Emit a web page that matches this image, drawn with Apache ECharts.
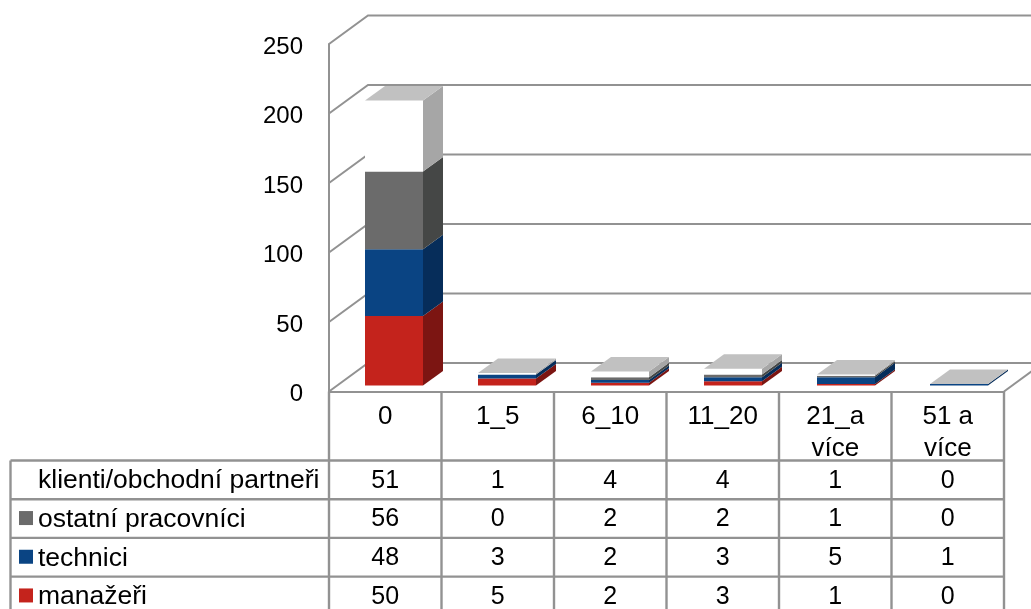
<!DOCTYPE html>
<html><head><meta charset="utf-8">
<style>html,body{margin:0;padding:0;background:#fff}#c{width:1031px;height:609px}</style>
<script src="https://cdn.jsdelivr.net/npm/echarts@6/dist/echarts.min.js"></script>
</head><body><div id="c"></div>
<script>
const categories = ['0', '1_5', '6_10', '11_20', '21_a\nvíce', '51 a\nvíce'];
const yTicks = [0, 50, 100, 150, 200, 250];
const manazeri = [50, 5, 2, 3, 1, 0];
const technici = [48, 3, 2, 3, 5, 1];
const ostatni = [56, 0, 2, 2, 1, 0];
const klienti = [51, 1, 4, 4, 1, 0];
const seriesNames = ['manažeři', 'technici', 'ostatní pracovníci', 'klienti/obchodní partneři'];
const seriesValues = [manazeri, technici, ostatni, klienti];
const frontColors = ['#c4231c', '#0a4483', '#6b6b6b', '#ffffff'];
const sideColors = ['#7c1512', '#062d5a', '#454746', '#a6a6a6'];
const topColor = '#c1c1c1';
const lineColor = '#929292';
const font = '"Liberation Sans", Arial, sans-serif';
const axisFs = 24, catFs = 26, rowFs = 26.5, valFs = 25;

const chart = echarts.init(document.getElementById('c'), null, {renderer: 'canvas'});
const W = {dx: 39, dy: -28.5};   // wall depth
const B = {dx: 20, dy: -14.5, ox: 36, oy: -6, w: 58, drift: 0.5}; // bar geometry
const tableTop = 460.5, rowH = 38.7, tableLeft = 10.5;

const lineStyle = {stroke: lineColor, lineWidth: 2, fill: null};
const tableLine = {stroke: lineColor, lineWidth: 2.4, fill: null};

function renderWall(params, api) {
  const v = api.value(0);
  const p = api.coord([0, v]);
  const band = api.size([1, 0])[0];
  const left = p[0] - band / 2;
  const right = left + band * categories.length;
  const kids = [{
    type: 'polyline', silent: true,
    shape: {points: [[left, p[1]], [left + W.dx, p[1] + W.dy], [right + W.dx + 10, p[1] + W.dy]]},
    style: lineStyle
  }];
  if (v === 0) kids.push({
    type: 'line', silent: true,
    shape: {x1: right, y1: p[1], x2: right + W.dx, y2: p[1] + W.dy},
    style: lineStyle
  });
  return {type: 'group', children: kids};
}

function renderSegment(si, isLast) {
  return function (params, api) {
    const i = api.value(0);
    const a = api.coord([i, api.value(1)]);
    const b = api.coord([i, api.value(2)]);
    const band = api.size([1, 0])[0];
    const x0 = a[0] - band / 2 + B.ox + B.drift * i, x1 = x0 + B.w;
    const y0 = a[1] + B.oy, y1 = b[1] + B.oy;
    const kids = [];
    if (y0 - y1 > 0) {
      kids.push({type: 'polygon', silent: true,
        shape: {points: [[x1, y0], [x1 + B.dx, y0 + B.dy], [x1 + B.dx, y1 + B.dy], [x1, y1]]},
        style: {fill: sideColors[si]}});
      kids.push({type: 'rect', silent: true,
        shape: {x: x0, y: y1, width: B.w, height: y0 - y1},
        style: {fill: frontColors[si]}});
    }
    if (isLast) {
      kids.push({type: 'polygon', silent: true,
        shape: {points: [[x0, y1], [x1, y1], [x1 + B.dx, y1 + B.dy], [x0 + B.dx, y1 + B.dy]]},
        style: {fill: topColor}});
    }
    return {type: 'group', children: kids};
  };
}

const running = categories.map(() => 0);
const barSeries = seriesNames.map((name, si) => {
  const data = categories.map((c, i) => {
    const base = running[i];
    running[i] += seriesValues[si][i];
    return [i, base, running[i]];
  });
  return {
    type: 'custom', name, z: 3 + si, silent: true, clip: false,
    encode: {x: 0, y: [1, 2]},
    renderItem: renderSegment(si, si === seriesNames.length - 1),
    data
  };
});

// table rows, top to bottom
const rowOrder = [3, 2, 1, 0];

function renderTable(params, api) {
  const p = api.coord([0, 0]);
  const band = api.size([1, 0])[0];
  const left = p[0] - band / 2;
  const right = left + band * categories.length;
  const kids = [];
  for (let k = 0; k <= categories.length; k++) {
    const x = left + band * k;
    kids.push({type: 'line', silent: true, shape: {x1: x, y1: p[1], x2: x, y2: 620}, style: tableLine});
  }
  kids.push({type: 'line', silent: true, shape: {x1: tableLeft, y1: tableTop, x2: tableLeft, y2: 620}, style: tableLine});
  for (let r = 0; r <= rowOrder.length; r++) {
    const y = tableTop + rowH * r;
    kids.push({type: 'line', silent: true, shape: {x1: tableLeft, y1: y, x2: right, y2: y}, style: tableLine});
  }
  rowOrder.forEach((si, r) => {
    const cy = tableTop + rowH * (r + 0.5);
    if (frontColors[si] !== '#ffffff') {
      kids.push({type: 'rect', silent: true, shape: {x: 19, y: cy - 7.5, width: 14, height: 14}, style: {fill: frontColors[si]}});
    }
    kids.push({type: 'text', silent: true, style: {
      x: 38, y: cy + 1, text: seriesNames[si], fill: '#000', font: rowFs + 'px ' + font,
      textAlign: 'left', textVerticalAlign: 'middle'}});
    categories.forEach((c, i) => {
      kids.push({type: 'text', silent: true, style: {
        x: left + band * (i + 0.5), y: cy + 1, text: String(seriesValues[si][i]), fill: '#000',
        font: valFs + 'px ' + font, textAlign: 'center', textVerticalAlign: 'middle'}});
    });
  });
  return {type: 'group', children: kids};
}

chart.setOption({
  animation: false,
  backgroundColor: '#fff',
  grid: {left: 329, right: 27, top: 44, height: 347.5, containLabel: false},
  xAxis: {
    type: 'category', data: categories,
    axisLine: {show: true, lineStyle: {color: lineColor, width: 2}},
    axisTick: {show: false},
    axisLabel: {interval: 0, color: '#000', fontFamily: font, fontSize: catFs, margin: 9, lineHeight: 32}
  },
  yAxis: {
    type: 'value', min: 0, max: 250, interval: 50,
    splitLine: {show: false},
    axisLine: {show: true, lineStyle: {color: lineColor, width: 2}},
    axisTick: {show: false},
    axisLabel: {color: '#000', fontFamily: font, fontSize: axisFs, margin: 26, verticalAlign: 'top', lineHeight: 6}
  },
  series: [
    {type: 'custom', name: 'walls', z: 1, silent: true, clip: false, encode: {y: 0},
     renderItem: renderWall, data: yTicks.map(v => [v])},
    ...barSeries,
    {type: 'custom', name: 'table', z: 2, silent: true, clip: false,
     renderItem: renderTable, data: [[0]]}
  ]
});
</script></body></html>
